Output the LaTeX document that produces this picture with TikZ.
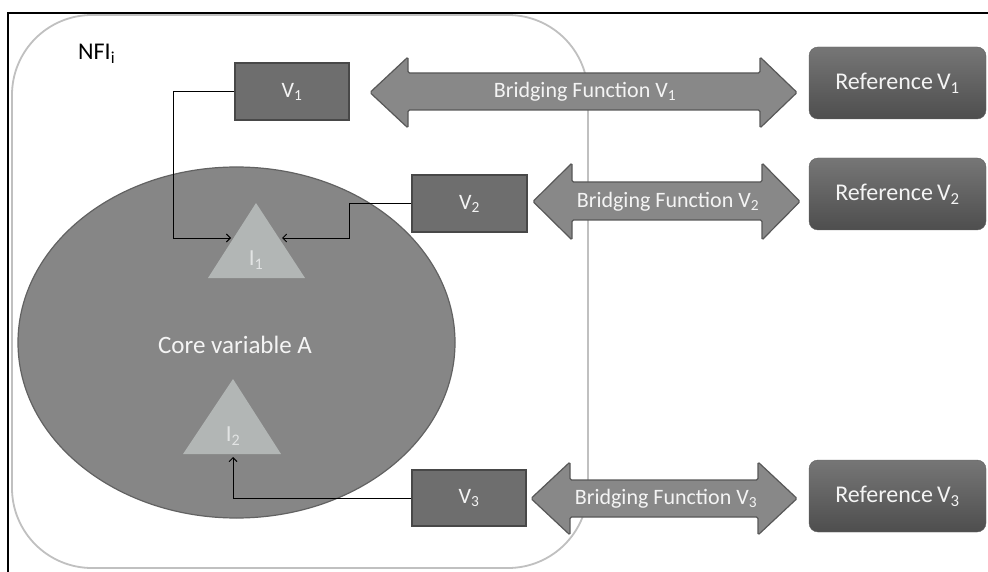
\documentclass[tikz,border=0pt]{standalone}
\usepackage{fontspec}
\setmainfont{Carlito}
\usetikzlibrary{arrows.meta,shapes.geometric}
\definecolor{boxfill}{RGB}{110,110,110}
\definecolor{boxborder}{RGB}{72,72,72}
\definecolor{arrfill}{RGB}{136,136,136}
\definecolor{arrborder}{RGB}{88,88,88}
\definecolor{ellfill}{RGB}{134,134,134}
\definecolor{ellborder}{RGB}{98,98,98}
\definecolor{trifill}{RGB}{178,182,181}
\definecolor{tritext}{RGB}{226,228,228}
\definecolor{reftop}{RGB}{118,118,118}
\definecolor{refbot}{RGB}{78,78,78}
\definecolor{refborder}{RGB}{96,96,96}
\definecolor{nfiline}{RGB}{192,192,192}
\definecolor{txtw}{RGB}{244,244,244}
\begin{document}
\begin{tikzpicture}[x=1pt,y=-1pt,
  vbox/.style={draw=boxborder, fill=boxfill, line width=1.2pt, text=txtw,
    font=\fontsize{22}{26}\selectfont, minimum width=114pt, minimum height=57pt, inner sep=0pt},
  refbox/.style={draw=refborder, rounded corners=9pt, top color=reftop, bottom color=refbot,
    text=txtw, font=\fontsize{24}{28}\selectfont, minimum width=177pt, minimum height=72pt, inner sep=0pt},
  bridge/.style={fill=arrfill, draw=arrborder, line width=1.2pt, rounded corners=1.5pt},
  bridgetext/.style={text=txtw, font=\fontsize{22}{26}\selectfont, inner sep=0pt},
  tri/.style={fill=trifill},
  tritxt/.style={text=tritext, font=\fontsize{23}{26}\selectfont, inner sep=0pt},
  conn/.style={draw=black, line width=0.9pt, -{Straight Barb[length=4pt,width=8pt]}}
]
\useasboundingbox (0,0) rectangle (988,572);
\fill[white] (0,0) rectangle (988,572);
% outer frame
\coordinate (frTR) at (988,13);
\coordinate (frTL) at (8,13);
\coordinate (frBL) at (8,572);
\draw[line width=2.2pt] (frTR) -- (frTL) -- (frBL);
% NFI rounded rectangle
\node[draw=nfiline, line width=1.8pt, rounded corners=80pt, minimum width=576pt, minimum height=553pt, inner sep=0pt] (nfi) at (300,291.5) {};
\node[font=\fontsize{24}{27}\selectfont, text=black, anchor=west, inner sep=0pt] (nfilabel) at (78,54) {NFI\textsubscript{i}};
% core ellipse
\node[ellipse, draw=ellborder, fill=ellfill, line width=1.2pt, minimum width=437pt, minimum height=351pt, inner sep=0pt] (core) at (236.5,342.5) {};
\node[text=txtw, font=\fontsize{25}{28}\selectfont, inner sep=0pt] (corelabel) at (235,345) {Core variable A};
% triangles
\fill[tri] (256,203) -- (305,278) -- (208,278) -- cycle;
\node[tritxt] (I1) at (256,260) {I\textsubscript{1}};
\fill[tri] (233,379) -- (281,454) -- (183,454) -- cycle;
\node[tritxt] (I2) at (233,436) {I\textsubscript{2}};
\coordinate (I1w) at (231,238);
\coordinate (I1e) at (282,238);
\coordinate (I2s) at (233,457);
% V boxes
\node[vbox] (V1) at (292,91.5) {V\textsubscript{1}};
\node[vbox, minimum width=115pt] (V2) at (469.5,203.5) {V\textsubscript{2}};
\node[vbox, minimum height=56pt] (V3) at (469,498) {V\textsubscript{3}};
% connectors
\draw[conn] (V1.west) -- ++(-61,0) |- (I1w);
\draw[conn] (V2.west) -- ++(-62,0) |- (I1e);
\draw[conn] (V3.west) -| (I2s);
% bridging arrows
\draw[bridge] (370,92.5) -- (408,57) -- (408,73) -- (760,73) -- (760,57) -- (797,92.5) -- (760,128) -- (760,110) -- (408,110) -- (408,128) -- cycle;
\draw[bridge] (533,201.5) -- (572,163) -- (572,182) -- (762,182) -- (762,163) -- (800,201.5) -- (762,240) -- (762,220) -- (572,220) -- (572,240) -- cycle;
\draw[bridge] (531,498.5) -- (570,462) -- (570,480) -- (758,480) -- (758,462) -- (797,498.5) -- (758,535) -- (758,517) -- (570,517) -- (570,535) -- cycle;
\node[bridgetext] (b1) at (585,92) {Bridging Function V\textsubscript{1}};
\node[bridgetext] (b2) at (668,202) {Bridging Function V\textsubscript{2}};
\node[bridgetext] (b3) at (666,499) {Bridging Function V\textsubscript{3}};
% reference boxes
\node[refbox] (R1) at (897.5,83) {Reference\,V\textsubscript{1}};
\node[refbox] (R2) at (897.5,194) {Reference\,V\textsubscript{2}};
\node[refbox] (R3) at (897.5,496) {Reference\,V\textsubscript{3}};
\end{tikzpicture}
\end{document}
